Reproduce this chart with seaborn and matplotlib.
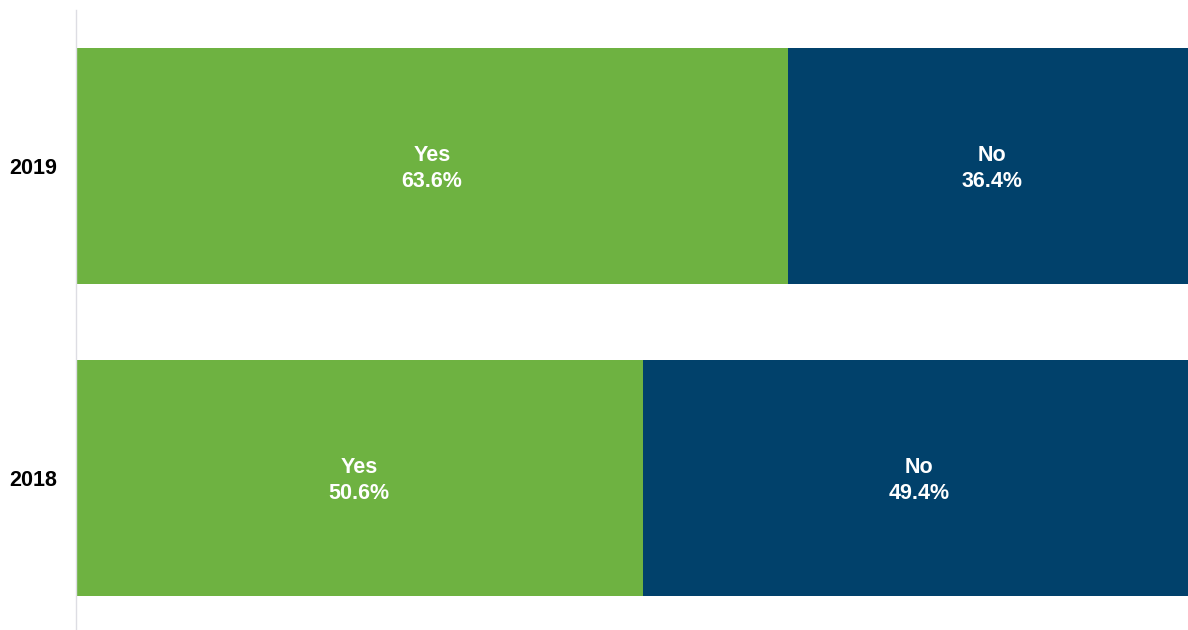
import matplotlib
matplotlib.use("Agg")
import matplotlib.pyplot as plt
import seaborn as sns
import pandas as pd

years = ["2019", "2018"]
yes_pct = [63.6, 50.6]
no_pct = [36.4, 49.4]

GREEN = "#6EB241"
NAVY = "#01416B"

sns.set_style("white")
plt.rcParams["font.family"] = ["Liberation Sans", "DejaVu Sans"]

df = pd.DataFrame({"year": years, "yes": yes_pct, "no": no_pct})
df["total"] = df["yes"] + df["no"]

fig = plt.figure(figsize=(11.88, 6.30), dpi=100)
ax = fig.add_axes([76 / 1188, 0.0, 1120 / 1188, 620 / 630])

# full-width bar in navy, then the "Yes" share laid over it in green
sns.barplot(data=df, x="total", y="year", orient="h", color=NAVY,
            width=0.756, saturation=1, ax=ax, linewidth=0)
sns.barplot(data=df, x="yes", y="year", orient="h", color=GREEN,
            width=0.756, saturation=1, ax=ax, linewidth=0)

for i, (y, n) in enumerate(zip(yes_pct, no_pct)):
    ax.text(y / 2, i + 0.008, f"Yes\n{y:.1f}%", ha="center", va="center",
            color="white", fontsize=15.5, fontweight="bold", linespacing=1.32)
    ax.text(y + n / 2, i + 0.008, f"No\n{n:.1f}%", ha="center", va="center",
            color="white", fontsize=15.5, fontweight="bold", linespacing=1.32)

ax.set_xlim(0, 100)
ax.set_ylim(1.487, -0.5)
ax.set_xlabel("")
ax.set_ylabel("")
ax.set_xticks([])
ax.tick_params(axis="y", length=0, pad=13.5)
for lbl in ax.get_yticklabels():
    lbl.set_fontweight("bold")
    lbl.set_fontsize(15.5)
    lbl.set_color("black")

for side in ["top", "right", "bottom"]:
    ax.spines[side].set_visible(False)
ax.spines["left"].set_color("#DDDDE3")
ax.spines["left"].set_linewidth(1)

fig.savefig("out.png", dpi=100)
